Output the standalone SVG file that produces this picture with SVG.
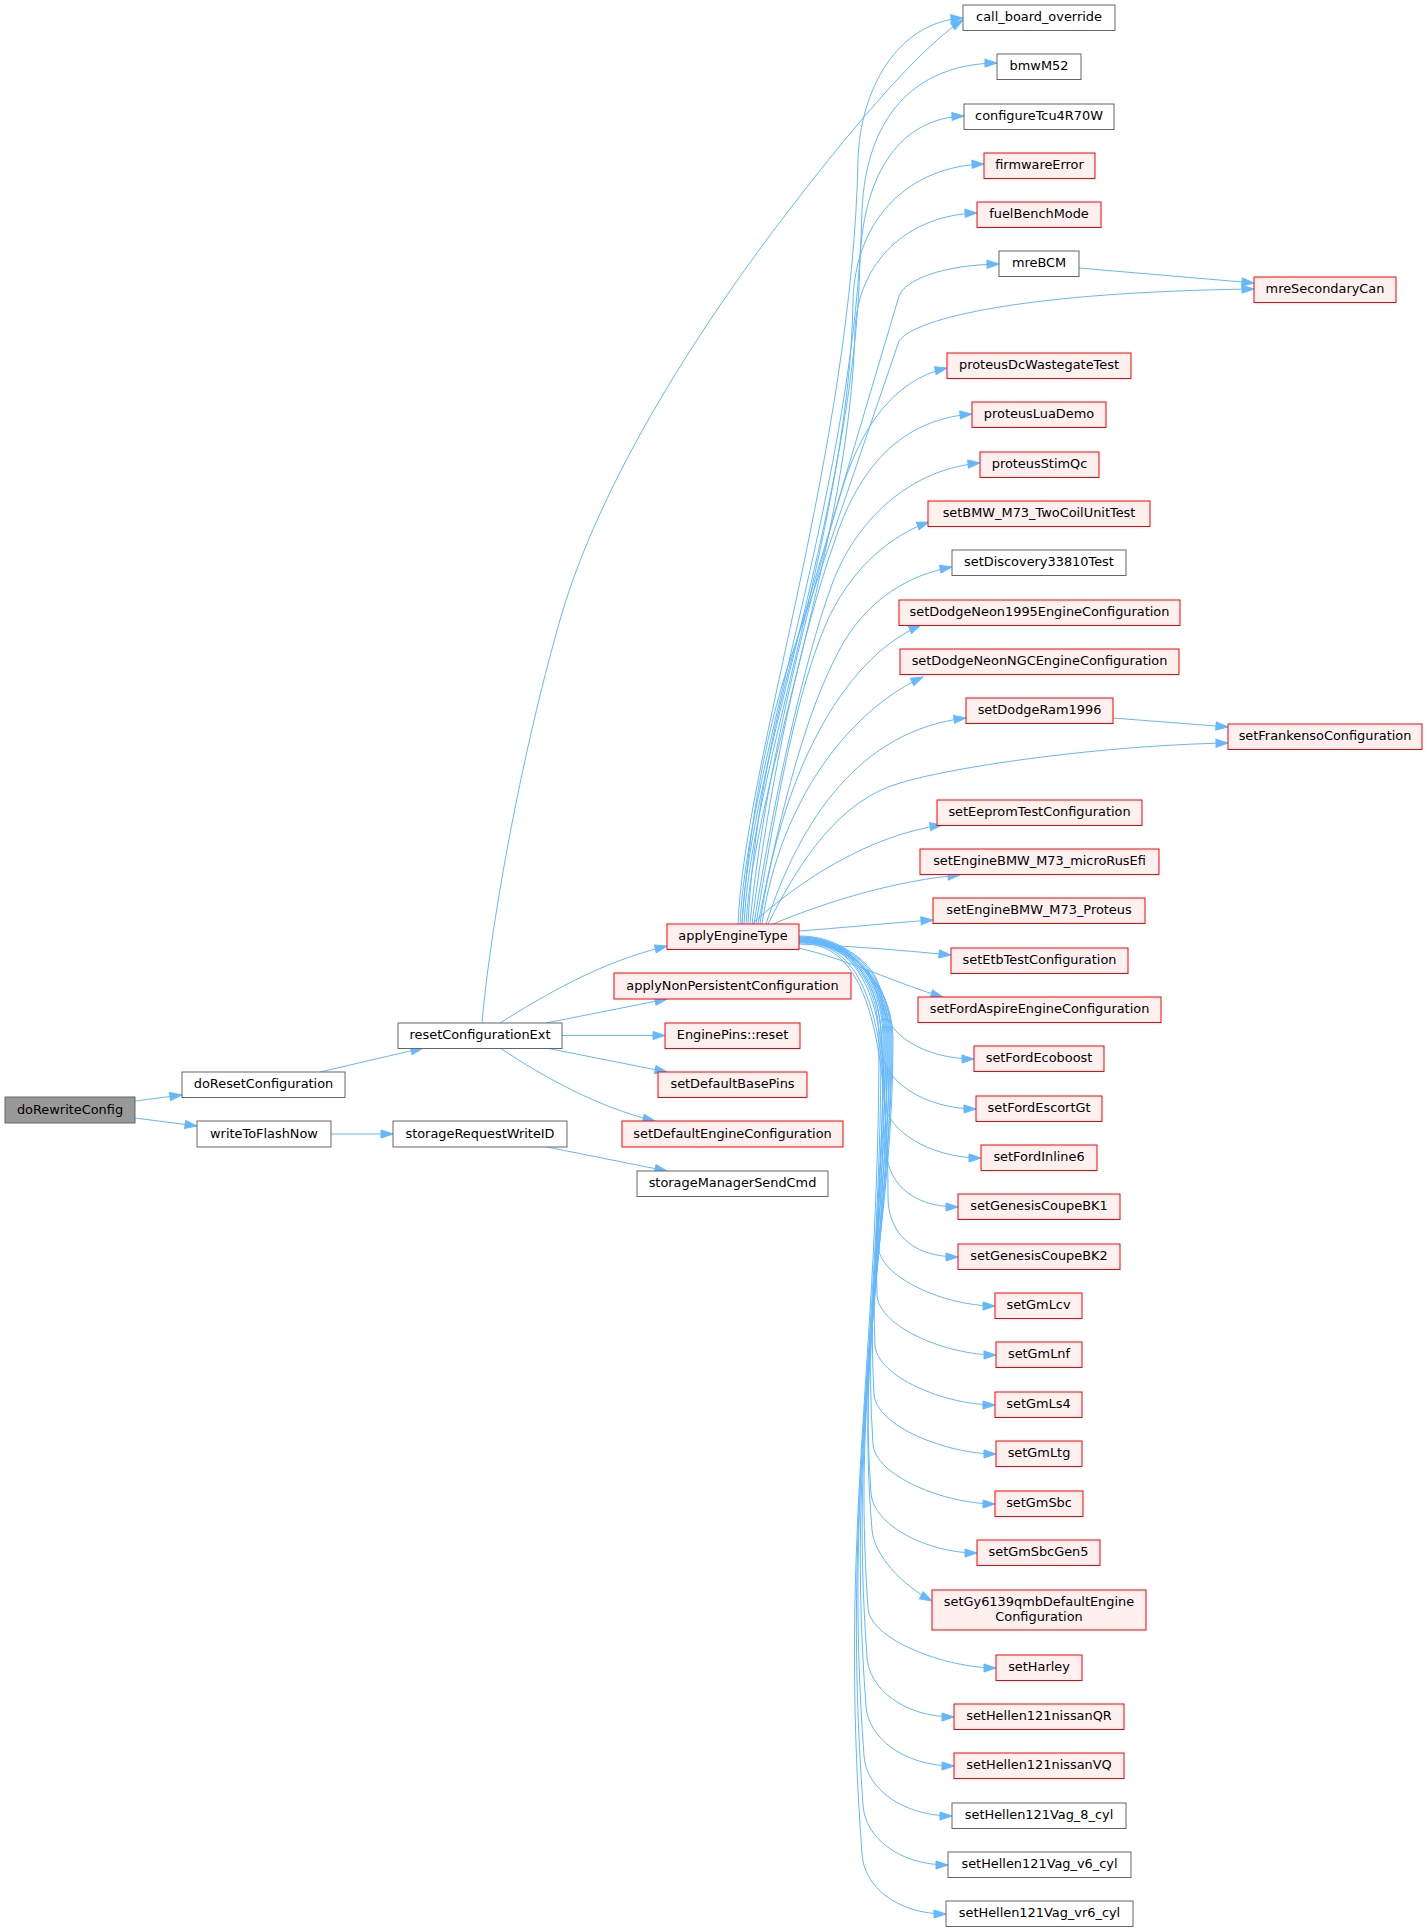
<svg xmlns="http://www.w3.org/2000/svg" width="1428" height="1932" viewBox="0 0 1428 1932">
<style>
.n rect{fill:#ffffff;stroke:#666666;stroke-width:1}
.r rect{fill:#fff0f0;stroke:#ff0000;stroke-width:1}
.root rect{fill:#999999;stroke:#666666;stroke-width:1}
text{font-family:"DejaVu Sans","Liberation Sans",sans-serif;font-size:12.9px;text-anchor:middle;fill:#000000}
.e{fill:none;stroke:#63b8ff;stroke-width:1;marker-end:url(#ah)}
</style>
<defs>
<marker id="ah" markerUnits="userSpaceOnUse" markerWidth="14" markerHeight="10" refX="12" refY="5" orient="auto" viewBox="0 0 14 10" overflow="visible">
<path d="M0,1 L12,5 L0,9 Z" fill="#63b8ff" stroke="#63b8ff" stroke-width="1"/>
</marker>
</defs>
<rect x="0" y="0" width="1428" height="1932" fill="#ffffff"/>
<g id="edges">
<path class="e" d="M135,1101 L182,1095"/>
<path class="e" d="M135,1118 L197,1126"/>
<path class="e" d="M320,1072 L423,1048"/>
<path class="e" d="M331,1134 L393,1134"/>
<path class="e" d="M547,1147 L667,1171"/>
<path class="e" d="M500,1023 C545,995 600,962 667,946"/>
<path class="e" d="M546,1023 L667,999"/>
<path class="e" d="M562,1035.5 L665,1035.5"/>
<path class="e" d="M546,1048 L667,1072"/>
<path class="e" d="M500,1048 C545,1078 600,1108 655,1121"/>
<path class="e" d="M482,1023 C490,930 520,760 560,620 C600,480 703,320 800,196 C835,151 915,50 963,20"/>
<path class="e" d="M1079,268 L1254,283"/>
<path class="e" d="M1113,718 L1228,727"/>
<path class="e" d="M738,924 C745,760 852,450 858,160 C860,90 897,22 963,18"/>
<path class="e" d="M740,924 C748,760 856,480 862,210 C866,120 912,64 997,63"/>
<path class="e" d="M742,924 C750,760 855,500 860,260 C864,170 902,118 964,116"/>
<path class="e" d="M744,924 C752,770 850,520 853,300 C856,215 912,166 984,164"/>
<path class="e" d="M746,924 C755,780 850,540 855,330 C858,262 907,215 977,213"/>
<path class="e" d="M748,924 C752,840 770,730 800,630 L899,296 C905,280 942,265 999,264"/>
<path class="e" d="M742,924 C748,840 763,740 790,660 L899,341 C915,318 1025,292 1254,289"/>
<path class="e" d="M750,924 C765,760 820,560 845,480 C862,430 892,380 947,368"/>
<path class="e" d="M752,924 C770,780 800,640 835,540 C855,480 892,420 972,414"/>
<path class="e" d="M754,924 C775,790 805,660 830,590 C850,530 902,470 980,463"/>
<path class="e" d="M756,924 C780,780 800,680 830,615 C855,565 892,535 929,522"/>
<path class="e" d="M758,924 C785,790 810,700 845,640 C870,600 907,575 952,567"/>
<path class="e" d="M760,924 C780,780 840,660 921,625"/>
<path class="e" d="M762,924 C780,800 850,710 923,677"/>
<path class="e" d="M766,924 C800,820 860,730 966,718"/>
<path class="e" d="M768,924 C800,860 840,800 900,783 C960,765 1110,745 1228,743"/>
<path class="e" d="M752,924 C800,880 870,835 942,825"/>
<path class="e" d="M773,924 C830,900 900,880 960,875"/>
<path class="e" d="M799,931 C840,928 890,923 933,920"/>
<path class="e" d="M799,944 C850,946 900,950 951,955"/>
<path class="e" d="M799,948 C850,960 900,985 943,997"/>
<path class="e" d="M799,939 C845,939 880,965 882,1000 C884,1035 925,1059 974,1059"/>
<path class="e" d="M799,940 C850,940 882,980 882,1049 C882,1081 925,1109 976,1109"/>
<path class="e" d="M799,941 C850,941 884,980 884,1098 C884,1130 930,1158 981,1158"/>
<path class="e" d="M799,942 C850,942 886,985 886,1147 C886,1179 908,1207 958,1207"/>
<path class="e" d="M799,943 C850,943 888,990 888,1197 C888,1229 908,1257 958,1257"/>
<path class="e" d="M799,937 C850,937 884,977 884,1040 C884,1122 878,1164 878,1246 C880,1278 945,1306 995,1306"/>
<path class="e" d="M799,938 C850,938 886,978 886,1040 C886,1142 874,1193 877,1295 C879,1327 946,1355 996,1355"/>
<path class="e" d="M799,939 C850,939 888,979 888,1040 C888,1162 870,1223 875,1345 C877,1377 945,1405 995,1405"/>
<path class="e" d="M799,940 C850,940 890,980 890,1040 C890,1182 866,1252 874,1394 C876,1426 946,1454 996,1454"/>
<path class="e" d="M799,941 C850,941 892,981 892,1040 C892,1202 862,1282 873,1444 C875,1476 945,1504 995,1504"/>
<path class="e" d="M799,942 C850,942 893,982 893,1040 C893,1221 858,1312 871,1493 C873,1525 927,1553 977,1553"/>
<path class="e" d="M799,936 C850,936 891,976 891,1040 C891,1236 856,1334 872,1530 C874,1555 902,1585 932,1601"/>
<path class="e" d="M799,937 C850,937 889,977 889,1040 C889,1267 852,1381 868,1608 C870,1640 946,1668 996,1668"/>
<path class="e" d="M799,938 C850,938 887,978 887,1040 C887,1287 849,1410 867,1657 C869,1689 904,1717 954,1717"/>
<path class="e" d="M799,939 C850,939 885,979 885,1040 C885,1306 846,1440 866,1706 C868,1738 904,1766 954,1766"/>
<path class="e" d="M799,940 C850,940 883,980 883,1040 C883,1326 843,1470 864,1756 C866,1788 902,1816 952,1816"/>
<path class="e" d="M799,941 C850,941 881,981 881,1040 C881,1346 841,1499 863,1805 C865,1837 898,1865 948,1865"/>
<path class="e" d="M799,942 C850,942 879,982 879,1040 C879,1366 838,1528 862,1854 C864,1886 896,1914 946,1914"/>
</g>
<g id="n-doRewriteConfig" class="root"><rect x="5" y="1097" width="130" height="26"/><text x="70" y="1113.5">doRewriteConfig</text></g>
<g id="n-doResetConfiguration" class="n"><rect x="182" y="1072" width="163" height="25.5"/><text x="263.5" y="1088.3">doResetConfiguration</text></g>
<g id="n-writeToFlashNow" class="n"><rect x="197" y="1121" width="134" height="26"/><text x="264" y="1137.5">writeToFlashNow</text></g>
<g id="n-resetConfigurationExt" class="n"><rect x="398" y="1023" width="164" height="25.5"/><text x="480" y="1039.3">resetConfigurationExt</text></g>
<g id="n-storageRequestWriteID" class="n"><rect x="393" y="1121" width="174" height="26"/><text x="480" y="1137.5">storageRequestWriteID</text></g>
<g id="n-applyEngineType" class="r"><rect x="667" y="924" width="132" height="25.5"/><text x="733" y="940.3">applyEngineType</text></g>
<g id="n-applyNonPersistentConfiguration" class="r"><rect x="614" y="973" width="237" height="26"/><text x="732.5" y="989.5">applyNonPersistentConfiguration</text></g>
<g id="n-EnginePins-reset" class="r"><rect x="665" y="1023" width="135" height="25.5"/><text x="732.5" y="1039.3">EnginePins::reset</text></g>
<g id="n-setDefaultBasePins" class="r"><rect x="658" y="1072" width="149" height="25.5"/><text x="732.5" y="1088.3">setDefaultBasePins</text></g>
<g id="n-setDefaultEngineConfiguration" class="r"><rect x="622" y="1121" width="221" height="26"/><text x="732.5" y="1137.5">setDefaultEngineConfiguration</text></g>
<g id="n-storageManagerSendCmd" class="n"><rect x="637" y="1171" width="191" height="25.5"/><text x="732.5" y="1187.3">storageManagerSendCmd</text></g>
<g id="n-call_board_override" class="n"><rect x="963" y="5" width="152" height="25.5"/><text x="1039" y="21.3">call_board_override</text></g>
<g id="n-bmwM52" class="n"><rect x="997" y="54" width="84" height="25.5"/><text x="1039" y="70.3">bmwM52</text></g>
<g id="n-configureTcu4R70W" class="n"><rect x="964" y="104" width="150" height="25.5"/><text x="1039" y="120.3">configureTcu4R70W</text></g>
<g id="n-firmwareError" class="r"><rect x="984" y="153" width="111" height="25.5"/><text x="1039.5" y="169.3">firmwareError</text></g>
<g id="n-fuelBenchMode" class="r"><rect x="977" y="202" width="124" height="25.5"/><text x="1039" y="218.3">fuelBenchMode</text></g>
<g id="n-mreBCM" class="n"><rect x="999" y="251" width="80" height="25.5"/><text x="1039" y="267.3">mreBCM</text></g>
<g id="n-mreSecondaryCan" class="r"><rect x="1254" y="277" width="142" height="25.5"/><text x="1325" y="293.3">mreSecondaryCan</text></g>
<g id="n-proteusDcWastegateTest" class="r"><rect x="947" y="353" width="184" height="25.5"/><text x="1039" y="369.3">proteusDcWastegateTest</text></g>
<g id="n-proteusLuaDemo" class="r"><rect x="972" y="402" width="134" height="25.5"/><text x="1039" y="418.3">proteusLuaDemo</text></g>
<g id="n-proteusStimQc" class="r"><rect x="980" y="452" width="119" height="25.5"/><text x="1039.5" y="468.3">proteusStimQc</text></g>
<g id="n-setBMW_M73_TwoCoilUnitTest" class="r"><rect x="928" y="501" width="222" height="25.5"/><text x="1039" y="517.3">setBMW_M73_TwoCoilUnitTest</text></g>
<g id="n-setDiscovery33810Test" class="n"><rect x="952" y="550" width="174" height="25.5"/><text x="1039" y="566.3">setDiscovery33810Test</text></g>
<g id="n-setDodgeNeon1995EngineConfiguration" class="r"><rect x="899" y="600" width="281" height="25.5"/><text x="1039.5" y="616.3">setDodgeNeon1995EngineConfiguration</text></g>
<g id="n-setDodgeNeonNGCEngineConfiguration" class="r"><rect x="900" y="649" width="279" height="25.5"/><text x="1039.5" y="665.3">setDodgeNeonNGCEngineConfiguration</text></g>
<g id="n-setDodgeRam1996" class="r"><rect x="966" y="698" width="147" height="25.5"/><text x="1039.5" y="714.3">setDodgeRam1996</text></g>
<g id="n-setFrankensoConfiguration" class="r"><rect x="1228" y="724" width="194" height="25.5"/><text x="1325" y="740.3">setFrankensoConfiguration</text></g>
<g id="n-setEepromTestConfiguration" class="r"><rect x="937" y="800" width="205" height="25.5"/><text x="1039.5" y="816.3">setEepromTestConfiguration</text></g>
<g id="n-setEngineBMW_M73_microRusEfi" class="r"><rect x="920" y="849" width="239" height="25.5"/><text x="1039.5" y="865.3">setEngineBMW_M73_microRusEfi</text></g>
<g id="n-setEngineBMW_M73_Proteus" class="r"><rect x="933" y="898" width="212" height="25.5"/><text x="1039" y="914.3">setEngineBMW_M73_Proteus</text></g>
<g id="n-setEtbTestConfiguration" class="r"><rect x="951" y="948" width="177" height="25.5"/><text x="1039.5" y="964.3">setEtbTestConfiguration</text></g>
<g id="n-setFordAspireEngineConfiguration" class="r"><rect x="918" y="997" width="243" height="25.5"/><text x="1039.5" y="1013.3">setFordAspireEngineConfiguration</text></g>
<g id="n-setFordEcoboost" class="r"><rect x="974" y="1046" width="130" height="25.5"/><text x="1039" y="1062.3">setFordEcoboost</text></g>
<g id="n-setFordEscortGt" class="r"><rect x="976" y="1096" width="126" height="25.5"/><text x="1039" y="1112.3">setFordEscortGt</text></g>
<g id="n-setFordInline6" class="r"><rect x="981" y="1145" width="116" height="25.5"/><text x="1039" y="1161.3">setFordInline6</text></g>
<g id="n-setGenesisCoupeBK1" class="r"><rect x="958" y="1194" width="162" height="25.5"/><text x="1039" y="1210.3">setGenesisCoupeBK1</text></g>
<g id="n-setGenesisCoupeBK2" class="r"><rect x="958" y="1244" width="162" height="25.5"/><text x="1039" y="1260.3">setGenesisCoupeBK2</text></g>
<g id="n-setGmLcv" class="r"><rect x="995" y="1293" width="87" height="25.5"/><text x="1038.5" y="1309.3">setGmLcv</text></g>
<g id="n-setGmLnf" class="r"><rect x="996" y="1342" width="86" height="25.5"/><text x="1039" y="1358.3">setGmLnf</text></g>
<g id="n-setGmLs4" class="r"><rect x="995" y="1392" width="87" height="25.5"/><text x="1038.5" y="1408.3">setGmLs4</text></g>
<g id="n-setGmLtg" class="r"><rect x="996" y="1441" width="86" height="25.5"/><text x="1039" y="1457.3">setGmLtg</text></g>
<g id="n-setGmSbc" class="r"><rect x="995" y="1491" width="88" height="25.5"/><text x="1039" y="1507.3">setGmSbc</text></g>
<g id="n-setGmSbcGen5" class="r"><rect x="977" y="1540" width="123" height="25.5"/><text x="1038.5" y="1556.3">setGmSbcGen5</text></g>
<g id="n-setGy6139qmbDefaultEngineConfiguration" class="r"><rect x="932" y="1590" width="214" height="40"/><text x="1039" y="1606">setGy6139qmbDefaultEngine</text><text x="1039" y="1621">Configuration</text></g>
<g id="n-setHarley" class="r"><rect x="996" y="1655" width="86" height="25.5"/><text x="1039" y="1671.3">setHarley</text></g>
<g id="n-setHellen121nissanQR" class="r"><rect x="954" y="1704" width="170" height="25.5"/><text x="1039" y="1720.3">setHellen121nissanQR</text></g>
<g id="n-setHellen121nissanVQ" class="r"><rect x="954" y="1753" width="170" height="25.5"/><text x="1039" y="1769.3">setHellen121nissanVQ</text></g>
<g id="n-setHellen121Vag_8_cyl" class="n"><rect x="952" y="1803" width="174" height="25.5"/><text x="1039" y="1819.3">setHellen121Vag_8_cyl</text></g>
<g id="n-setHellen121Vag_v6_cyl" class="n"><rect x="948" y="1852" width="183" height="25.5"/><text x="1039.5" y="1868.3">setHellen121Vag_v6_cyl</text></g>
<g id="n-setHellen121Vag_vr6_cyl" class="n"><rect x="946" y="1901" width="187" height="25.5"/><text x="1039.5" y="1917.3">setHellen121Vag_vr6_cyl</text></g>
</svg>
